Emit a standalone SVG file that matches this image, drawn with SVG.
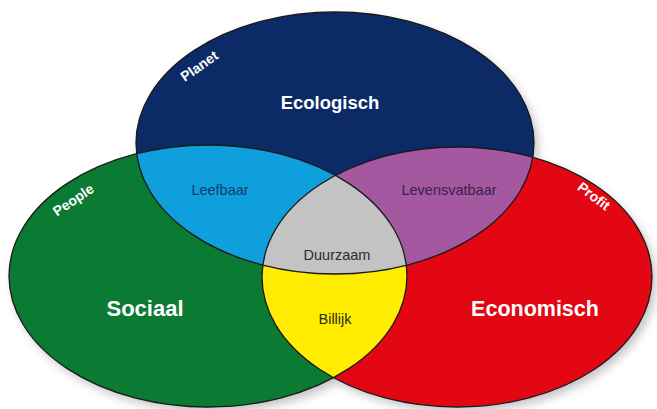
<svg xmlns="http://www.w3.org/2000/svg" width="657" height="409" viewBox="0 0 657 409">
<style>
.edge{fill:none;stroke:#1a1a1a;stroke-width:1.3}
.big{font-family:"Liberation Sans",Arial,sans-serif;font-weight:bold;fill:#ffffff;text-anchor:middle}
.mid{font-family:"Liberation Sans",Arial,sans-serif;font-size:14.5px;text-anchor:middle}
.tag{font-family:"Liberation Sans",Arial,sans-serif;font-weight:bold;font-size:14px;fill:#ffffff;text-anchor:middle}
</style>
<defs>
<filter id="sh" x="-10%" y="-10%" width="130%" height="130%">
<feGaussianBlur stdDeviation="5"/>
</filter>
<clipPath id="cTop"><ellipse cx="335" cy="143" rx="199" ry="131"/></clipPath>
<clipPath id="cLeft"><ellipse cx="208" cy="276" rx="199" ry="131"/></clipPath>
<clipPath id="cRight"><ellipse cx="457" cy="277" rx="195" ry="130"/></clipPath>
</defs>
<rect width="657" height="409" fill="#ffffff"/>
<g opacity="0.35" filter="url(#sh)" fill="#555">
<ellipse cx="212" cy="281" rx="199" ry="131"/>
<ellipse cx="461" cy="282" rx="195" ry="130"/>
<ellipse cx="339" cy="148" rx="199" ry="131"/>
</g>
<g id="sociaal">
<ellipse cx="208" cy="276" rx="199" ry="131" fill="#0b7a32"/>
<text class="big" x="145" y="316" font-size="22">Sociaal</text>
<text class="tag" transform="translate(76,204) rotate(-34)">People</text>
</g>
<g id="economisch">
<ellipse cx="457" cy="277" rx="195" ry="130" fill="#e30613"/>
<text class="big" x="535" y="316" font-size="21.5">Economisch</text>
<text class="tag" transform="translate(591,200) rotate(37)">Profit</text>
</g>
<g id="ecologisch">
<ellipse cx="335" cy="143" rx="199" ry="131" fill="#0c2a66"/>
<text class="big" x="330" y="109" font-size="18.5">Ecologisch</text>
<text class="tag" transform="translate(202,70) rotate(-35)">Planet</text>
</g>
<g id="leefbaar">
<g clip-path="url(#cTop)"><ellipse cx="208" cy="276" rx="199" ry="131" fill="#0e9fdc"/></g>
<text class="mid" x="220" y="195" fill="#163a6e">Leefbaar</text>
</g>
<g id="levensvatbaar">
<g clip-path="url(#cTop)"><ellipse cx="457" cy="277" rx="195" ry="130" fill="#a4589f"/></g>
<text class="mid" x="449" y="195" fill="#3a1f48">Levensvatbaar</text>
</g>
<g id="billijk">
<g clip-path="url(#cLeft)"><ellipse cx="457" cy="277" rx="195" ry="130" fill="#ffec00"/></g>
<text class="mid" x="335" y="324" fill="#2a2a1a" font-size="15">Billijk</text>
</g>
<g id="duurzaam">
<g clip-path="url(#cTop)"><g clip-path="url(#cLeft)"><ellipse cx="457" cy="277" rx="195" ry="130" fill="#c3c3c3"/></g></g>
<text class="mid" x="337" y="260" fill="#2b2b2b" font-size="15">Duurzaam</text>
</g>
<g id="connectors">
<ellipse class="edge" cx="208" cy="276" rx="199" ry="131"/>
<ellipse class="edge" cx="457" cy="277" rx="195" ry="130"/>
<ellipse class="edge" cx="335" cy="143" rx="199" ry="131"/>
</g>
</svg>
